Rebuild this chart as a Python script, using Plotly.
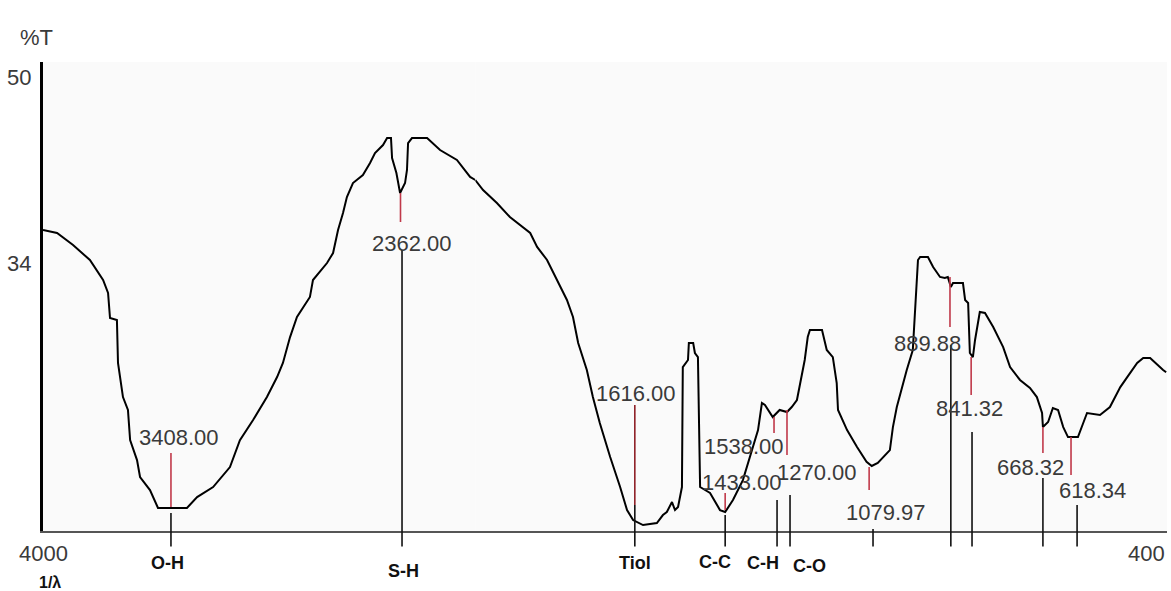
import plotly.graph_objects as go

# ---------------- data ----------------
wavenumber = [4000, 3935, 3861, 3783, 3722, 3699, 3690, 3658, 3653, 3630, 3607, 3597, 3565, 3551,
              3505, 3468, 3334, 3287, 3213, 3135, 3089, 3028, 2964, 2917, 2890, 2857, 2825, 2765,
              2751, 2686, 2658, 2635, 2612, 2594, 2566, 2520, 2487, 2464, 2427, 2408, 2390, 2385,
              2365, 2348, 2325, 2316, 2311, 2293, 2223, 2163, 2085, 2024, 2000,
              1982, 1950, 1920, 1873, 1857, 1834, 1811, 1788, 1774, 1762, 1742, 1728, 1712, 1688,
              1665, 1649, 1635, 1612, 1580, 1566, 1557, 1545, 1538, 1531, 1522, 1520, 1508, 1506,
              1496, 1492, 1485, 1480, 1457, 1434, 1422, 1404, 1381, 1358, 1346, 1337, 1330, 1312,
              1296, 1279, 1268, 1256, 1249, 1238, 1231, 1226, 1198, 1187, 1173, 1164, 1161, 1140,
              1117, 1095, 1083, 1069, 1041, 1034, 1025, 1011, 1002, 988, 983, 976, 971, 953, 941,
              925, 914, 907, 900, 895, 872, 867, 860, 856, 849, 844, 833, 821, 802, 779, 763, 740,
              717, 701, 689, 687, 675, 664, 652, 640, 629, 606, 585, 555, 532, 508, 492, 469, 455,
              439, 409, 402]
transmittance = [36.84, 36.58, 35.55, 34.26, 32.54, 31.42, 29.27, 29.10, 25.40, 22.47, 21.36, 18.77,
                 17.05, 15.59, 14.47, 12.93, 12.93, 13.87, 14.73, 16.45, 18.77, 20.50, 22.47, 24.19,
                 25.40, 27.63, 29.36, 31.08, 32.54, 34.00, 34.86, 36.84, 38.30, 39.68, 40.88, 41.57,
                 42.60, 43.46, 44.15, 44.75, 44.75, 43.03, 41.74, 40.02, 40.88, 42.00, 44.32, 44.75,
                 44.75, 43.72, 42.86, 41.40, 41.14,
                 40.28, 39.16, 37.96, 36.58, 35.38, 34.26, 32.54, 30.82, 29.36, 27.12, 24.80, 22.47,
                 20.24, 17.31, 14.73, 12.75, 11.89, 11.46, 11.63, 12.32, 12.58, 13.44, 12.75, 13.01,
                 14.73, 25.05, 25.66, 27.12, 27.12, 26.26, 25.91, 14.73, 14.22, 12.75, 12.58, 13.61,
                 15.33, 18.17, 19.63, 21.96, 21.79, 20.75, 21.36, 21.18, 21.61, 22.22, 23.68, 25.66,
                 27.63, 28.24, 28.24, 26.52, 25.91, 23.68, 21.36, 19.63, 18.17, 16.90, 16.54, 16.80,
                 17.91, 19.89, 21.61, 23.68, 24.80, 26.52, 29.36, 34.26, 34.52, 34.52, 33.66, 32.80,
                 32.71, 32.80, 31.94, 32.28, 32.28, 30.82, 30.56, 26.26, 25.91, 27.38, 29.79, 29.70,
                 28.50, 26.77, 25.05, 23.94, 23.25, 22.47, 21.10, 19.89, 20.32, 21.53, 21.36, 19.89,
                 19.03, 19.03, 21.10, 20.93, 21.61, 23.33, 24.19, 25.40, 25.83, 25.83, 24.80, 24.60]

peak_labels = ["3408.00", "2362.00", "1616.00", "1538.00", "1433.00", "1270.00",
               "1079.97", "889.88", "841.32", "668.32", "618.34"]
peak_label_x = [3371, 2293, 1628, 1378, 1383, 1210, 1050, 953, 856, 715, 573]
peak_label_y = [19.03, 35.72, 22.82, 18.26, 15.08, 15.94, 12.58, 27.12, 21.53, 16.37, 14.47]
red_x = [3408, 2346, 1631, 1309, 1422, 1279, 1089, 902, 853, 687, 622]
red_y0 = [13.01, 37.53, 13.18, 19.38, 12.75, 17.48, 14.47, 28.50, 22.65, 17.66, 15.76]
red_y1 = [17.66, 40.02, 21.79, 20.75, 14.22, 21.36, 16.45, 32.80, 25.91, 19.89, 19.03]
red_colors = ["#c0394a", "#c0394a", "#8e1f26", "#c0394a", "#c0394a", "#c0394a",
              "#c0394a", "#c0394a", "#c0394a", "#c0394a", "#c0394a"]
black_x = [3408, 2339, 1631, 1422, 1302, 1272, 1080, 900, 851, 687, 608]
black_top = [12.50, 35.12, 13.18, 12.32, 13.61, 14.04, 11.12, 26.95, 19.46, 15.51, 13.18]

group_labels = ["O-H", "S-H", "Tiol", "C-C", "C-H", "C-O"]
group_x = [3422, 2334, 1631, 1446, 1334, 1226]
group_y = [-0.068, -0.085, -0.068, -0.066, -0.068, -0.074]

x_tick_labels = ["4000", "400"]
y_tick_vals = [50, 34]

# ---------------- layout constants ----------------
BREAK = 2000
YMIN, YMAX = 10.95, 51.29
SPLIT = 0.3846  # 2000 cm-1 units left of break vs 1600 units at double scale
LABEL_FONT = dict(family="Liberation Sans, Arial, sans-serif", size=22, color="#3a3a3a")
BOLD_FONT = dict(family="Liberation Sans, Arial, sans-serif", size=18, color="#111111")


def xr(w):
    return "x" if w >= BREAK else "x2"


def yp(t):
    return (t - YMIN) / (YMAX - YMIN)


fig = go.Figure()

seg1 = [(w, t) for w, t in zip(wavenumber, transmittance) if w >= BREAK]
seg2 = [(w, t) for w, t in zip(wavenumber, transmittance) if w <= BREAK]
for seg, xa in ((seg1, "x"), (seg2, "x2")):
    fig.add_trace(go.Scatter(
        x=[p[0] for p in seg], y=[p[1] for p in seg], xaxis=xa, yaxis="y",
        mode="lines", line=dict(color="#000000", width=2), hoverinfo="skip", showlegend=False))

shapes = []
for bx, bt in zip(black_x, black_top):
    shapes.append(dict(type="line", xref=xr(bx), yref="paper", x0=bx, x1=bx,
                       y0=-0.033, y1=yp(bt), line=dict(color="#111111", width=1.6)))
for rx, r0, r1, rc in zip(red_x, red_y0, red_y1, red_colors):
    shapes.append(dict(type="line", xref=xr(rx), yref="y", x0=rx, x1=rx, y0=r0, y1=r1,
                       line=dict(color=rc, width=1.6)))

annotations = []
for txt, lx, ly in zip(peak_labels, peak_label_x, peak_label_y):
    annotations.append(dict(text=txt, x=lx, y=ly, xref=xr(lx), yref="y", showarrow=False,
                            font=LABEL_FONT, xanchor="center", yanchor="middle"))
for txt, gx, gy in zip(group_labels, group_x, group_y):
    annotations.append(dict(text="<b>" + txt + "</b>", x=gx, y=gy, xref=xr(gx), yref="paper",
                            showarrow=False, font=BOLD_FONT, xanchor="center", yanchor="middle"))
annotations.append(dict(text=x_tick_labels[0], x=4000, y=-0.047, xref="x", yref="paper",
                        showarrow=False, font=LABEL_FONT, xanchor="center", yanchor="middle"))
annotations.append(dict(text=x_tick_labels[1], x=400, y=-0.047, xref="x2", yref="paper",
                        showarrow=False, font=LABEL_FONT, xanchor="right", yanchor="middle"))
annotations.append(dict(text="%T", x=-0.006, y=1.053, xref="paper", yref="paper",
                        showarrow=False, font=LABEL_FONT, xanchor="center", yanchor="middle"))
annotations.append(dict(text="<b>1/λ</b>", x=0.006, y=-0.110, xref="paper", yref="paper",
                        showarrow=False, font=dict(family="Liberation Sans, Arial, sans-serif",
                                                   size=16, color="#111111"),
                        xanchor="center", yanchor="middle"))

fig.update_layout(
    width=1171, height=591,
    margin=dict(l=43, r=4, t=62, b=60),
    paper_bgcolor="#ffffff", plot_bgcolor="#fafafa",
    showlegend=False,
    xaxis=dict(domain=[0, SPLIT], range=[4000, BREAK], anchor="y", showline=True,
               linecolor="#555555", linewidth=2, showgrid=False, zeroline=False,
               showticklabels=False, ticks=""),
    xaxis2=dict(domain=[SPLIT, 1], range=[BREAK, 400], anchor="y", showline=True,
                linecolor="#555555", linewidth=2, showgrid=False, zeroline=False,
                showticklabels=False, ticks=""),
    yaxis=dict(domain=[0, 1], range=[YMIN, YMAX], anchor="x", showline=True,
               linecolor="#000000", linewidth=3, showgrid=False, zeroline=False,
               tickvals=y_tick_vals, ticktext=[str(v) for v in y_tick_vals], ticks="",
               tickfont=LABEL_FONT, ticklabelstandoff=4),
    shapes=shapes,
    annotations=annotations,
)

fig.write_html("out.html", config={"displayModeBar": False},
               post_script="document.body.style.margin='0';")
